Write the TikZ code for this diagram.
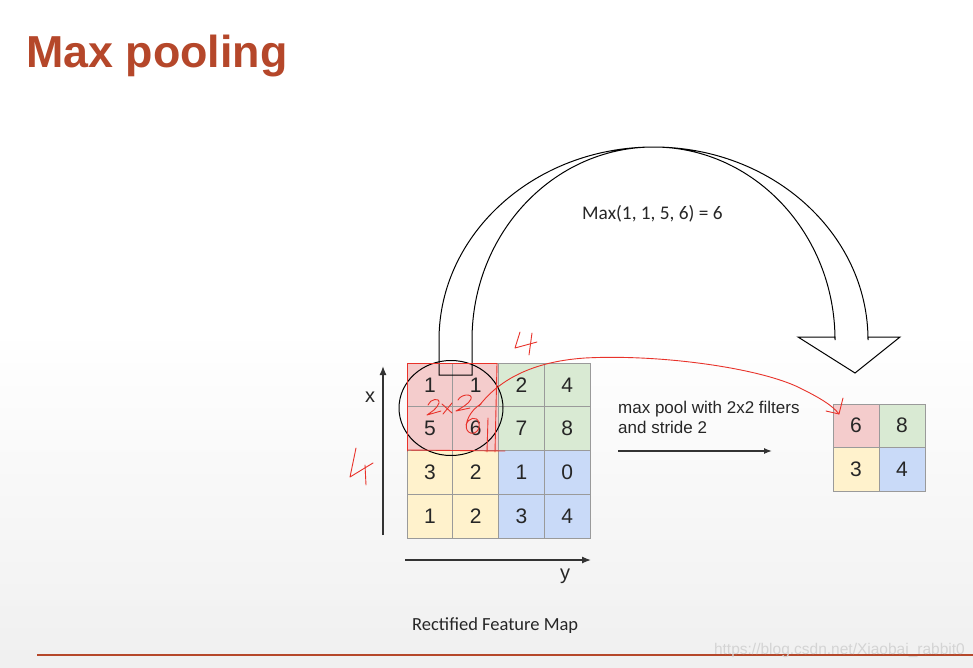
\documentclass[tikz,border=0pt]{standalone}
\usepackage{fontspec}
\setmainfont{Liberation Sans}
\newfontfamily\calib{Carlito}
\usetikzlibrary{arrows.meta}
\definecolor{titlered}{HTML}{B5472A}
\definecolor{pinkc}{HTML}{F4CCCC}
\definecolor{greenc}{HTML}{D9EAD3}
\definecolor{yellowc}{HTML}{FFF2CC}
\definecolor{bluec}{HTML}{C9DAF8}
\definecolor{gridgray}{HTML}{9A9A9A}
\definecolor{handred}{HTML}{E8322A}
\definecolor{wmgray}{HTML}{D4D4D4}
\tikzset{
  cell/.style={draw=gridgray, line width=0.8pt, minimum width=45.75pt, minimum height=43.75pt,
    inner sep=0pt, outer sep=0pt, font=\fontsize{21}{21}\selectfont, text=black!85},
  ocell/.style={cell, minimum width=46pt, minimum height=43.5pt},
  axisarrow/.style={line width=1.3pt, black!80, -{Latex[length=9pt,width=7pt]}},
  hand/.style={handred, line width=0.9pt, line cap=round, line join=round},
  bigarrow/.style={black, line width=1pt, line join=miter},
  lbl/.style={inner sep=0pt, text=black!85}
}
\begin{document}
\begin{tikzpicture}[x=1pt,y=-1pt]
\useasboundingbox (0,0) rectangle (973,667);
\fill[white] (0,0) rectangle (973,667);
\shade[top color=white, bottom color=black!6] (0,330) rectangle (973,667);

% title
\node[anchor=base west, inner sep=0pt, text=titlered, font=\fontsize{44.8}{44.8}\selectfont\bfseries] (title) at (26,67) {Max pooling};

% input grid
\node[cell, fill=pinkc]   (a11) at (429.9,384.9) {1};
\node[cell, fill=pinkc]   (a12) at (475.6,384.9) {1};
\node[cell, fill=greenc]  (a13) at (521.4,384.9) {2};
\node[cell, fill=greenc]  (a14) at (567.1,384.9) {4};
\node[cell, fill=pinkc]   (a21) at (429.9,428.6) {5};
\node[cell, fill=pinkc]   (a22) at (475.6,428.6) {6};
\node[cell, fill=greenc]  (a23) at (521.4,428.6) {7};
\node[cell, fill=greenc]  (a24) at (567.1,428.6) {8};
\node[cell, fill=yellowc] (a31) at (429.9,472.4) {3};
\node[cell, fill=yellowc] (a32) at (475.6,472.4) {2};
\node[cell, fill=bluec]   (a33) at (521.4,472.4) {1};
\node[cell, fill=bluec]   (a34) at (567.1,472.4) {0};
\node[cell, fill=yellowc] (a41) at (429.9,516.1) {1};
\node[cell, fill=yellowc] (a42) at (475.6,516.1) {2};
\node[cell, fill=bluec]   (a43) at (521.4,516.1) {3};
\node[cell, fill=bluec]   (a44) at (567.1,516.1) {4};

% output grid
\node[ocell, fill=pinkc]   (o11) at (856,425.75) {6};
\node[ocell, fill=greenc]  (o12) at (902,425.75) {8};
\node[ocell, fill=yellowc] (o21) at (856,469.25) {3};
\node[ocell, fill=bluec]   (o22) at (902,469.25) {4};

% axes
\coordinate (xa) at (383,535);
\coordinate (xb) at (383,366);
\coordinate (ya) at (405,560);
\coordinate (yb) at (591,560);
\draw[axisarrow] (xa) -- (xb);
\draw[axisarrow] (ya) -- (yb);
\node[lbl, font=\fontsize{20}{20}\selectfont] (xl) at (370,397) {x};
\node[lbl, font=\fontsize{20}{20}\selectfont] (yl) at (565,576) {y};

% max pool text and arrow
\node[lbl, anchor=base west, align=left, font=\fontsize{17}{20}\selectfont] (mp) at (618,433) {max pool with 2x2 filters\\and stride 2};
\coordinate (ma) at (618,451);
\coordinate (mb) at (772,451);
\draw[black!80, line width=1.3pt, -{Latex[length=8pt,width=6pt]}] (ma) -- (mb);

% big curved arrow
\draw[bigarrow] (439,375) -- (439,340) arc[start angle=180, end angle=360, x radius=214.5, y radius=193]
  -- (868,337) -- (900,337) -- (855,373) -- (798,337) -- (835,337) -- (835,340)
  arc[start angle=0, end angle=-180, x radius=181.5, y radius=193] -- (472,375) -- cycle;
\draw[bigarrow] (451,408) ellipse[x radius=52, y radius=47.5];
\node[lbl, anchor=base west, font=\calib\fontsize{19.3}{19.3}\selectfont] (maxeq) at (582,219) {Max(1, 1, 5, 6) = 6};

% captions
\node[lbl, anchor=base west, font=\calib\fontsize{18.5}{18.5}\selectfont] (cap) at (412,630) {Rectified Feature Map};
\draw[titlered, line width=1.2pt] (37,655) -- (973,655);
\node[anchor=base east, inner sep=0pt, text=wmgray, font=\fontsize{15.5}{15.5}\selectfont] (wm) at (965,654) {https://blog.csdn.net/Xiaobai\_rabbit0};

% red handwriting
\draw[hand] (407.5,451) -- (407.5,363.5) -- (497,363.5) -- (495,452);
\draw[hand] (407.5,450) -- (505,451);
\draw[hand] (488,418) -- (487,452);
% top 4
\draw[hand] (520,332) -- (515,348) -- (537,342);
\draw[hand] (532,333) -- (529,355);
% left 4
\draw[hand] (356,448) -- (350,477) -- (373,463);
\draw[hand] (365,465) -- (366,485);
% 2x2
\draw[hand] (428,405) .. controls (430,399) and (440,397) .. (439,403) .. controls (437,409) and (431,412) .. (427,415) -- (441,411);
\draw[hand] (442,404) -- (452,413);
\draw[hand] (452,403) -- (443,414);
\draw[hand] (458,400) .. controls (461,394) and (473,393) .. (471,399) .. controls (469,404) and (461,408) .. (456,411) -- (470,408);
% 6 and arrow
\draw[hand] (481,404) .. controls (470,410) and (464,424) .. (467,430)
  .. controls (471,437) and (481,432) .. (479,423) .. controls (477,415) and (468,418) .. (466,425);
\coordinate (rs) at (479,406);
\coordinate (rt) at (839,414);
\draw[hand] (rs) .. controls (495,385) and (525,362) .. (585,358)
  .. controls (660,354) and (760,368) .. (800,388) .. controls (820,398) and (832,405) .. (rt);
\draw[hand] (843,398) -- (rt) -- (826,411);
\end{tikzpicture}
\end{document}
